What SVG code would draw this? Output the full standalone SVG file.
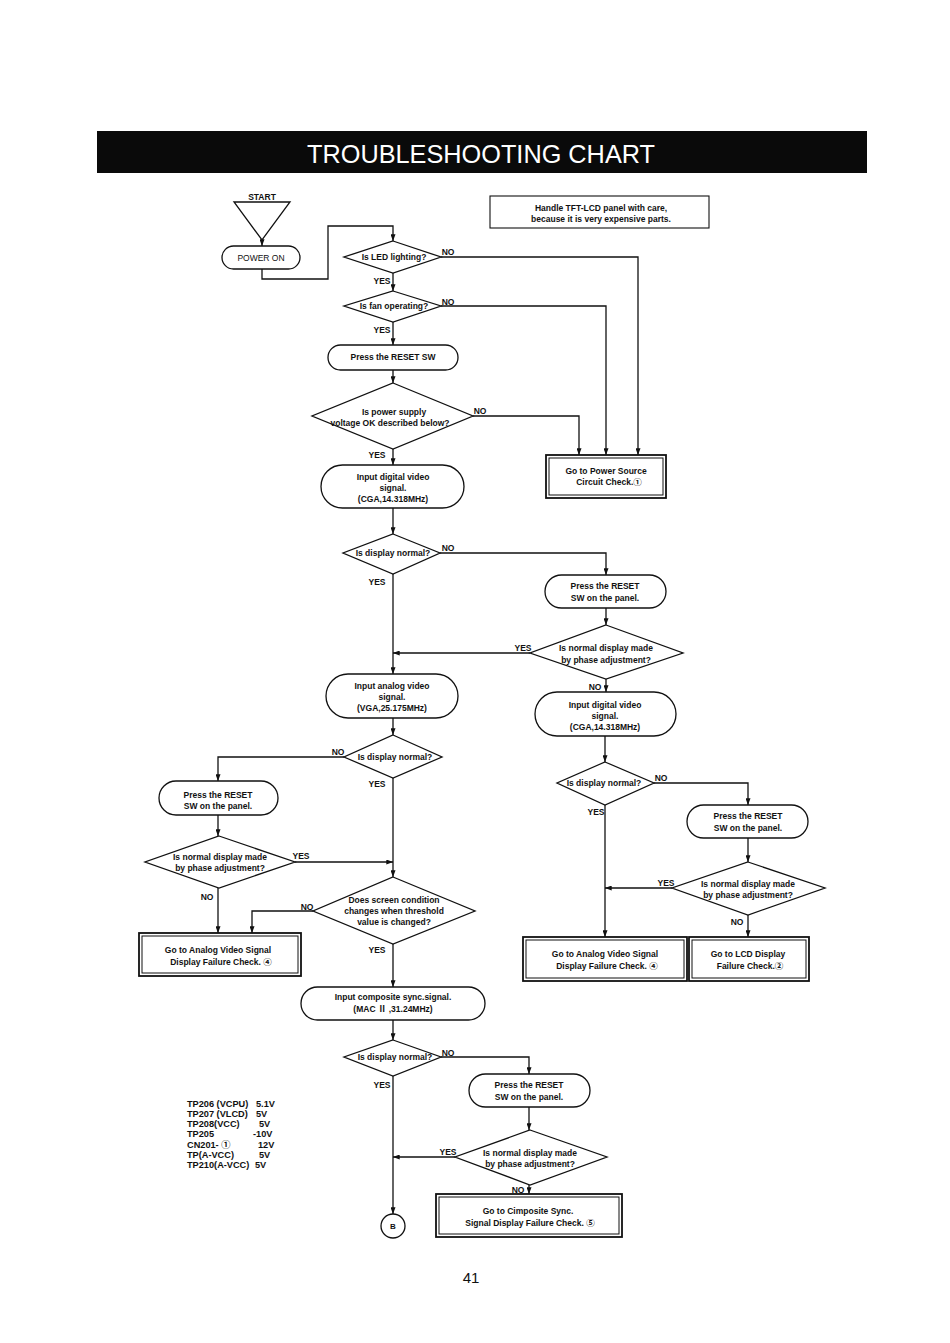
<svg xmlns="http://www.w3.org/2000/svg" width="950" height="1343" viewBox="0 0 950 1343">
<style>
.bg{fill:#fff}
.sh{fill:#fff;stroke:#111;stroke-width:1.3}
.ob{fill:#fff;stroke:#111;stroke-width:1.8}
.ib{fill:none;stroke:#111;stroke-width:1}
.ln{fill:none;stroke:#111;stroke-width:1.3}
text{font-family:"Liberation Sans","Noto Sans CJK JP",sans-serif;font-size:8.5px;font-weight:bold;fill:#111}
.c{text-anchor:middle}
.lbl{text-anchor:middle}
.title{font-size:26px;font-weight:normal;fill:#fff;text-anchor:middle}
.pg{font-size:15px;font-weight:normal;text-anchor:middle}
.v{font-size:9.2px}
</style>
<defs>
<marker id="ah" viewBox="0 0 8 6" refX="8" refY="3" markerWidth="7" markerHeight="5" markerUnits="userSpaceOnUse" orient="auto">
<path d="M0,0 L8,3 L0,6 z" fill="#111"/>
</marker>
</defs>
<rect class="bg" x="0" y="0" width="950" height="1343"/>

<g id="header">
<rect x="97" y="131" width="770" height="42" fill="#0a0a0a"/>
<text class="title" x="481" y="163" textLength="348" lengthAdjust="spacingAndGlyphs">TROUBLESHOOTING CHART</text>
</g>

<g id="note">
<rect x="490" y="196" width="219" height="32" fill="#fff" stroke="#111" stroke-width="1.1"/>
<text class="c" x="601" y="211">Handle TFT-LCD panel with care,</text>
<text class="c" x="601" y="222">because it is very expensive parts.</text>
</g>

<g id="connectors">
<path class="ln" d="M262,240 V246" marker-end="url(#ah)"/>
<path class="ln" d="M262,269 V279 H328 V226 H393 V241" marker-end="url(#ah)"/>
<path class="ln" d="M393,273 V291" marker-end="url(#ah)"/>
<path class="ln" d="M441,257 H638 V455" marker-end="url(#ah)"/>
<path class="ln" d="M393,322 V345" marker-end="url(#ah)"/>
<path class="ln" d="M441,306 H606 V455" marker-end="url(#ah)"/>
<path class="ln" d="M393,370 V383" marker-end="url(#ah)"/>
<path class="ln" d="M473,416 H579 V455" marker-end="url(#ah)"/>
<path class="ln" d="M393,449 V465" marker-end="url(#ah)"/>
<path class="ln" d="M393,508 V534" marker-end="url(#ah)"/>
<path class="ln" d="M440,553 H606 V575" marker-end="url(#ah)"/>
<path class="ln" d="M393,574 V674" marker-end="url(#ah)"/>
<path class="ln" d="M606,608 V625" marker-end="url(#ah)"/>
<path class="ln" d="M530,653 H393" marker-end="url(#ah)"/>
<path class="ln" d="M606,679 V692" marker-end="url(#ah)"/>
<path class="ln" d="M605,736 V762" marker-end="url(#ah)"/>
<path class="ln" d="M654,783 H748 V805" marker-end="url(#ah)"/>
<path class="ln" d="M605,805 V937" marker-end="url(#ah)"/>
<path class="ln" d="M748,838 V862" marker-end="url(#ah)"/>
<path class="ln" d="M672,888 H605" marker-end="url(#ah)"/>
<path class="ln" d="M748,915 V937" marker-end="url(#ah)"/>
<path class="ln" d="M393,718 V735" marker-end="url(#ah)"/>
<path class="ln" d="M344,757 H218 V781" marker-end="url(#ah)"/>
<path class="ln" d="M393,778 V877" marker-end="url(#ah)"/>
<path class="ln" d="M218,815 V836" marker-end="url(#ah)"/>
<path class="ln" d="M295,862 H393" marker-end="url(#ah)"/>
<path class="ln" d="M218,888 V933" marker-end="url(#ah)"/>
<path class="ln" d="M313,911 H252 V933" marker-end="url(#ah)"/>
<path class="ln" d="M393,944 V987" marker-end="url(#ah)"/>
<path class="ln" d="M393,1020 V1040" marker-end="url(#ah)"/>
<path class="ln" d="M441,1057 H529 V1074" marker-end="url(#ah)"/>
<path class="ln" d="M393,1076 V1214" marker-end="url(#ah)"/>
<path class="ln" d="M529,1107 V1130" marker-end="url(#ah)"/>
<path class="ln" d="M455,1157 H393" marker-end="url(#ah)"/>
<path class="ln" d="M529,1185 V1194" marker-end="url(#ah)"/>
</g>

<g id="labels">
<text class="lbl" x="448" y="255">NO</text>
<text class="lbl" x="382" y="284">YES</text>
<text class="lbl" x="448" y="305">NO</text>
<text class="lbl" x="382" y="333">YES</text>
<text class="lbl" x="480" y="414">NO</text>
<text class="lbl" x="377" y="458">YES</text>
<text class="lbl" x="448" y="551">NO</text>
<text class="lbl" x="377" y="585">YES</text>
<text class="lbl" x="523" y="651">YES</text>
<text class="lbl" x="595" y="690">NO</text>
<text class="lbl" x="661" y="781">NO</text>
<text class="lbl" x="596" y="815">YES</text>
<text class="lbl" x="666" y="886">YES</text>
<text class="lbl" x="737" y="925">NO</text>
<text class="lbl" x="338" y="755">NO</text>
<text class="lbl" x="377" y="787">YES</text>
<text class="lbl" x="301" y="859">YES</text>
<text class="lbl" x="207" y="900">NO</text>
<text class="lbl" x="307" y="910">NO</text>
<text class="lbl" x="377" y="953">YES</text>
<text class="lbl" x="448" y="1056">NO</text>
<text class="lbl" x="382" y="1088">YES</text>
<text class="lbl" x="448" y="1155">YES</text>
<text class="lbl" x="518" y="1193">NO</text>
</g>

<g id="start">
<polygon class="sh" points="234,202 290,202 262,240"/>
<text class="c" x="262" y="200">START</text>
</g>

<g id="power_on">
<rect class="sh" x="222" y="246" width="78" height="23" rx="11.5"/>
<text class="c" x="261" y="261" style="font-weight:normal">POWER ON</text>
</g>

<g id="d_led">
<polygon class="sh" points="393,241 441,257 393,273 344,257"/>
<text class="c" x="394" y="260">Is LED lighting?</text>
</g>

<g id="d_fan">
<polygon class="sh" points="393,291 441,306 393,322 344,306"/>
<text class="c" x="394" y="309">Is fan operating?</text>
</g>

<g id="press_reset_sw">
<rect class="sh" x="328" y="345" width="130" height="25" rx="12.5"/>
<text class="c" x="393" y="360">Press the RESET SW</text>
</g>

<g id="d_power">
<polygon class="sh" points="393,383 473,416 393,449 312,416"/>
<text class="c" x="394" y="415">Is power supply</text>
<text class="c" x="390" y="426">voltage OK described below?</text>
</g>

<g id="power_source">
<rect class="ob" x="546" y="455" width="120" height="43"/>
<rect class="ib" x="549" y="458" width="114" height="37"/>
<text class="c" x="606" y="474">Go to Power Source</text>
<text class="c" x="609" y="485">Circuit Check.①</text>
</g>

<g id="digital1">
<rect class="sh" x="321" y="465" width="143" height="43" rx="21.5"/>
<text class="c" x="393" y="480">Input digital video</text>
<text class="c" x="393" y="491">signal.</text>
<text class="c" x="393" y="502">(CGA,14.318MHz)</text>
</g>

<g id="d_display1">
<polygon class="sh" points="393,534 440,553 393,574 343,553"/>
<text class="c" x="393" y="556">Is display normal?</text>
</g>

<g id="press_r1">
<rect class="sh" x="545" y="575" width="121" height="33" rx="16.5"/>
<text class="c" x="605" y="589">Press the RESET</text>
<text class="c" x="605" y="601">SW on the panel.</text>
</g>

<g id="d_phase_r1">
<polygon class="sh" points="606,625 683,653 606,679 530,653"/>
<text class="c" x="606" y="651">Is normal display made</text>
<text class="c" x="606" y="663">by phase adjustment?</text>
</g>

<g id="digital2">
<rect class="sh" x="535" y="692" width="141" height="44" rx="22"/>
<text class="c" x="605" y="708">Input digital video</text>
<text class="c" x="605" y="719">signal.</text>
<text class="c" x="605" y="730">(CGA,14.318MHz)</text>
</g>

<g id="d_display_r">
<polygon class="sh" points="605,762 654,783 605,805 557,783"/>
<text class="c" x="604" y="786">Is display normal?</text>
</g>

<g id="press_r2">
<rect class="sh" x="687" y="805" width="121" height="33" rx="16.5"/>
<text class="c" x="748" y="819">Press the RESET</text>
<text class="c" x="748" y="831">SW on the panel.</text>
</g>

<g id="d_phase_r2">
<polygon class="sh" points="748,862 825,888 748,915 672,888"/>
<text class="c" x="748" y="887">Is normal display made</text>
<text class="c" x="748" y="898">by phase adjustment?</text>
</g>

<g id="analog_box_r">
<rect class="ob" x="523" y="937" width="164" height="44"/>
<rect class="ib" x="526" y="940" width="158" height="38"/>
<text class="c" x="605" y="957">Go to Analog Video Signal</text>
<text class="c" x="607" y="969">Display Failure Check. ④</text>
</g>

<g id="lcd_box">
<rect class="ob" x="689" y="937" width="120" height="44"/>
<rect class="ib" x="692" y="940" width="114" height="38"/>
<text class="c" x="748" y="957">Go to LCD Display</text>
<text class="c" x="750" y="969">Failure Check.②</text>
</g>

<g id="analog1">
<rect class="sh" x="326" y="674" width="132" height="44" rx="22"/>
<text class="c" x="392" y="689">Input analog video</text>
<text class="c" x="392" y="700">signal.</text>
<text class="c" x="392" y="711">(VGA,25.175MHz)</text>
</g>

<g id="d_display2">
<polygon class="sh" points="393,735 442,757 393,778 344,757"/>
<text class="c" x="395" y="760">Is display normal?</text>
</g>

<g id="press_l">
<rect class="sh" x="159" y="781" width="119" height="34" rx="17"/>
<text class="c" x="218" y="798">Press the RESET</text>
<text class="c" x="218" y="809">SW on the panel.</text>
</g>

<g id="d_phase_l">
<polygon class="sh" points="219,836 295,862 219,888 145,862"/>
<text class="c" x="220" y="860">Is normal display made</text>
<text class="c" x="220" y="871">by phase adjustment?</text>
</g>

<g id="d_threshold">
<polygon class="sh" points="393,877 475,911 393,944 313,911"/>
<text class="c" x="394" y="903">Does screen condition</text>
<text class="c" x="394" y="914">changes when threshold</text>
<text class="c" x="394" y="925">value is changed?</text>
</g>

<g id="analog_box_l">
<rect class="ob" x="139" y="933" width="162" height="43"/>
<rect class="ib" x="142" y="936" width="156" height="37"/>
<text class="c" x="218" y="953">Go to Analog Video Signal</text>
<text class="c" x="221" y="965">Display Failure Check. ④</text>
</g>

<g id="composite">
<rect class="sh" x="301" y="987" width="184" height="33" rx="16.5"/>
<text class="c" x="393" y="1000">Input composite sync.signal.</text>
<text class="c" x="393" y="1012">(MAC Ⅱ ,31.24MHz)</text>
</g>

<g id="d_display3">
<polygon class="sh" points="393,1040 441,1057 393,1076 344,1057"/>
<text class="c" x="395" y="1060">Is display normal?</text>
</g>

<g id="press_b">
<rect class="sh" x="469" y="1074" width="121" height="33" rx="16.5"/>
<text class="c" x="529" y="1088">Press the RESET</text>
<text class="c" x="529" y="1100">SW on the panel.</text>
</g>

<g id="d_phase_b">
<polygon class="sh" points="530,1130 607,1157 530,1185 455,1157"/>
<text class="c" x="530" y="1156">Is normal display made</text>
<text class="c" x="530" y="1167">by phase adjustment?</text>
</g>

<g id="composite_box">
<rect class="ob" x="436" y="1194" width="186" height="43"/>
<rect class="ib" x="439" y="1197" width="180" height="37"/>
<text class="c" x="528" y="1214">Go to Cimposite Sync.</text>
<text class="c" x="530" y="1226">Signal Display Failure Check. ⑤</text>
</g>

<g id="connector_b">
<circle class="sh" cx="393" cy="1226" r="12"/>
<text class="c" x="393" y="1229" style="font-size:8px">B</text>
</g>

<g id="voltages">
<text class="v" x="187" y="1107">TP206 (VCPU)</text><text class="v" x="256" y="1107">5.1V</text>
<text class="v" x="187" y="1117">TP207 (VLCD)</text><text class="v" x="256" y="1117">5V</text>
<text class="v" x="187" y="1127">TP208(VCC)</text><text class="v" x="259" y="1127">5V</text>
<text class="v" x="187" y="1137">TP205</text><text class="v" x="253" y="1137">-10V</text>
<text class="v" x="187" y="1148">CN201- ①</text><text class="v" x="258" y="1148">12V</text>
<text class="v" x="187" y="1158">TP(A-VCC)</text><text class="v" x="259" y="1158">5V</text>
<text class="v" x="187" y="1168">TP210(A-VCC)</text><text class="v" x="255" y="1168">5V</text>
</g>

<text class="pg" x="471" y="1283">41</text>
</svg>
